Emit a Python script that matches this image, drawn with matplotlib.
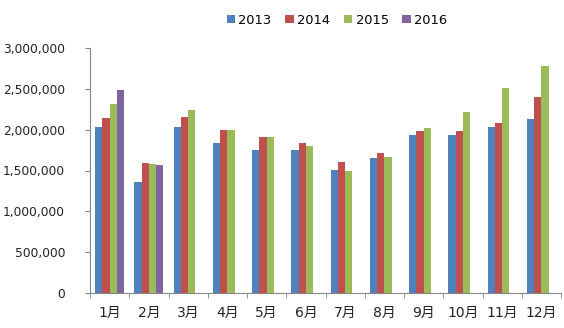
import numpy as np
import matplotlib.pyplot as plt
from matplotlib.ticker import FuncFormatter, FixedLocator

plt.rcParams['font.family'] = ['DejaVu Sans', 'Noto Sans CJK SC']

# ---- DATI ----
mesi = ['1月', '2月', '3月', '4月', '5月', '6月', '7月', '8月', '9月', '10月', '11月', '12月']
anni = ['2013', '2014', '2015', '2016']

v2013 = [2030000, 1355000, 2030000, 1840000, 1750000, 1750000, 1505000, 1648000, 1930000, 1930000, 2030000, 2135000]
v2014 = [2146000, 1595000, 2160000, 1995000, 1905000, 1840000, 1607000, 1710000, 1980000, 1980000, 2085000, 2400000]
v2015 = [2310000, 1580000, 2240000, 1995000, 1905000, 1800000, 1490000, 1660000, 2020000, 2215000, 2505000, 2780000]
v2016 = [2490000, 1570000] + [np.nan] * 10

colori = ['#4F81BD', '#C0504D', '#9BBB59', '#8064A2']
serie = [v2013, v2014, v2015, v2016]

# ---- PLOT ----
fig = plt.figure(figsize=(5.64, 3.28), dpi=100)
ax = fig.add_axes([90 / 564, 35 / 328, 471 / 564, 245 / 328])

x = np.arange(len(mesi))
w = 0.185
for i, (vals, col, lab) in enumerate(zip(serie, colori, anni)):
    ax.bar(x + (i - 1.5) * w, vals, width=w, color=col, label=lab, linewidth=0)

ax.set_xlim(-0.5, len(mesi) - 0.5)
ax.set_ylim(0, 3000000)
ax.set_yticks(np.arange(0, 3000001, 500000))
ax.yaxis.set_major_formatter(FuncFormatter(lambda v, p: f"{int(v):,}"))

ax.set_xticks(x)
ax.set_xticklabels(mesi)
ax.xaxis.set_minor_locator(FixedLocator(np.arange(-0.5, len(mesi), 1.0)))
ax.tick_params(axis='x', which='major', length=0, pad=9, labelsize=10, colors='#222222')
ax.tick_params(axis='x', which='minor', length=3.6, color='#868686')
ax.tick_params(axis='y', length=3.6, color='#868686', labelsize=8.8, labelcolor='#222222', pad=14.4)

for s in ['top', 'right']:
    ax.spines[s].set_visible(False)
for s in ['left', 'bottom']:
    ax.spines[s].set_color('#868686')

ax.legend(loc='center', bbox_to_anchor=(337 / 564, 1 - 20 / 328), bbox_transform=fig.transFigure,
          ncol=4, frameon=False, fontsize=9.4, handlelength=0.65, handleheight=0.65,
          handletextpad=0.25, columnspacing=1.05, borderpad=0)

fig.savefig('out.png', dpi=100)
